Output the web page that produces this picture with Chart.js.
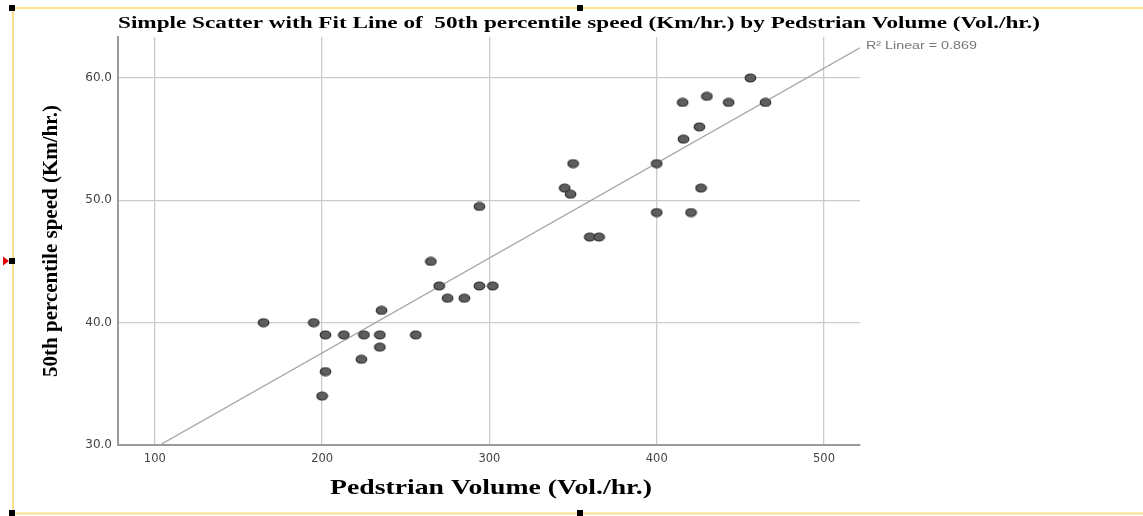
<!DOCTYPE html>
<html>
<head>
<meta charset="utf-8">
<script src="https://cdn.jsdelivr.net/npm/chart.js@4.4.1/dist/chart.umd.min.js"></script>
<style>
    html, body { margin: 0; padding: 0; background: #fff; }
    #wrap { width: 1143px; height: 516px; position: relative; }
</style>
</head>
<body>
<div id="wrap"><canvas id="scatterChart"></canvas></div>
<script>
// pedestrian volume (Vol./hr.) and 50th percentile speed (Km/hr.)
const volume = [165, 195, 202, 213, 225, 234.5, 256, 235.5, 234.5, 223.5, 202, 200,
    265, 270, 275, 285, 294, 302, 294, 345, 348.5, 350, 360, 365.5,
    400, 400, 416, 415.5, 425.5, 430, 443, 456, 465, 420.5, 426.5];
const speed = [40, 40, 39, 39, 39, 39, 39, 41, 38, 37, 36, 34,
    45, 43, 42, 42, 43, 43, 49.5, 51, 50.5, 53, 47, 47,
    53, 49, 55, 58, 56, 58.5, 58, 60, 58, 49, 51];

// fit line end points
const fitX = [103, 521.5];
const fitY = [30, 62.47];
const fitLabel = 'R\u00b2 Linear = 0.869';

const xTicks = [100, 200, 300, 400, 500];
const yTicks = [30, 40, 50, 60];

const chartTitle = 'Simple Scatter with Fit Line of  50th percentile speed (Km/hr.) by Pedstrian Volume (Vol./hr.)';
const xTitle = 'Pedstrian Volume (Vol./hr.)';
const yTitle = '50th percentile speed (Km/hr.)';

const serif = '"Liberation Serif", "Times New Roman", serif';

// the source picture is stretched sideways, so markers are slight ellipses
function makeMarker() {
    const c = document.createElement('canvas');
    c.width = 13; c.height = 10;
    const g = c.getContext('2d');
    g.beginPath();
    g.ellipse(6.5, 5, 5.3, 4, 0, 0, Math.PI * 2);
    g.fillStyle = '#5e5e5e';
    g.fill();
    g.lineWidth = 1.2;
    g.strokeStyle = '#2e2e2e';
    g.stroke();
    return c;
}

// text drawn wider to follow the stretched original
function wideText(ctx, text, font, cx, cy, width) {
    ctx.save();
    ctx.font = font;
    ctx.textAlign = 'center';
    ctx.textBaseline = 'middle';
    const sx = width / ctx.measureText(text).width;
    ctx.translate(cx, cy);
    ctx.scale(sx, 1);
    ctx.fillText(text, 0, 0);
    ctx.restore();
}

const frameDecor = {
    id: 'frameDecor',
    afterDraw(chart) {
        const ctx = chart.ctx;
        const xs = chart.scales.x, ys = chart.scales.y;
        ctx.save();
        // selection frame
        ctx.strokeStyle = '#f9e08c';
        ctx.lineWidth = 2;
        ctx.beginPath();
        ctx.moveTo(1143, 8); ctx.lineTo(13, 8); ctx.lineTo(13, 513.5); ctx.lineTo(1143, 513.5);
        ctx.stroke();
        ctx.fillStyle = '#000';
        [[12, 8], [580, 8], [12, 261], [12, 513], [580, 513]].forEach(p => {
            ctx.fillRect(p[0] - 3, p[1] - 3, 6, 6);
        });
        ctx.fillStyle = '#e00000';
        ctx.beginPath();
        ctx.moveTo(3, 256.5); ctx.lineTo(9, 261); ctx.lineTo(3, 265.5); ctx.closePath();
        ctx.fill();

        ctx.fillStyle = '#000';
        wideText(ctx, chartTitle, 'bold 17px ' + serif, 579, 24, 922);
        wideText(ctx, xTitle, 'bold 21px ' + serif, (xs.left + xs.right) / 2 + 2, 489, 322);

        ctx.save();
        ctx.translate(52, (ys.top + ys.bottom) / 2);
        ctx.rotate(-Math.PI / 2);
        ctx.font = 'bold 21px ' + serif;
        ctx.textAlign = 'center';
        ctx.textBaseline = 'middle';
        ctx.fillText(yTitle, 0, 0);
        ctx.restore();

        // fit line label
        ctx.fillStyle = '#777';
        const lx = xs.getPixelForValue(fitX[1]) + 6;
        ctx.font = '11px "Liberation Sans", Arial, sans-serif';
        const lw = ctx.measureText(fitLabel).width * 1.3;
        wideText(ctx, fitLabel, '11px "Liberation Sans", Arial, sans-serif', lx + lw / 2, ys.getPixelForValue(fitY[1]) - 2, lw);
        ctx.restore();
    }
};

const ctx = document.getElementById('scatterChart').getContext('2d');
new Chart(ctx, {
    type: 'scatter',
    data: {
        datasets: [{
            data: volume.map((v, i) => ({ x: v, y: speed[i] })),
            pointStyle: makeMarker(),
            pointRadius: 5,
            pointHoverRadius: 5
        }, {
            type: 'line',
            data: fitX.map((v, i) => ({ x: v, y: fitY[i] })),
            borderColor: '#a3a3a3',
            borderWidth: 1.3,
            pointRadius: 0,
            fill: false
        }]
    },
    options: {
        responsive: true,
        maintainAspectRatio: false,
        animation: false,
        layout: { padding: { left: 0, right: 283, top: 37, bottom: 0 } },
        plugins: {
            legend: { display: false },
            tooltip: { enabled: false },
            title: { display: false }
        },
        scales: {
            x: {
                type: 'linear',
                min: 78,
                max: 521.5,
                afterBuildTicks: s => { s.ticks = xTicks.map(v => ({ value: v })); },
                afterFit: s => { s.height = 71; },
                grid: { color: '#cbcbcb', lineWidth: 1.3, drawTicks: false },
                border: { color: '#9a9a9a', width: 2 },
                ticks: {
                    color: '#444',
                    padding: 7,
                    font: { family: '"DejaVu Sans", Verdana, sans-serif', size: 11.5 }
                }
            },
            y: {
                type: 'linear',
                min: 30,
                max: 63.35,
                afterBuildTicks: s => { s.ticks = yTicks.map(v => ({ value: v })); },
                afterFit: s => { s.width = 118; },
                grid: { color: '#cbcbcb', lineWidth: 1.3, drawTicks: false },
                border: { color: '#9a9a9a', width: 2 },
                ticks: {
                    color: '#444',
                    padding: 6,
                    callback: v => v.toFixed(1),
                    font: { family: '"DejaVu Sans", Verdana, sans-serif', size: 12 }
                }
            }
        }
    },
    plugins: [frameDecor]
});
</script>
</body>
</html>
